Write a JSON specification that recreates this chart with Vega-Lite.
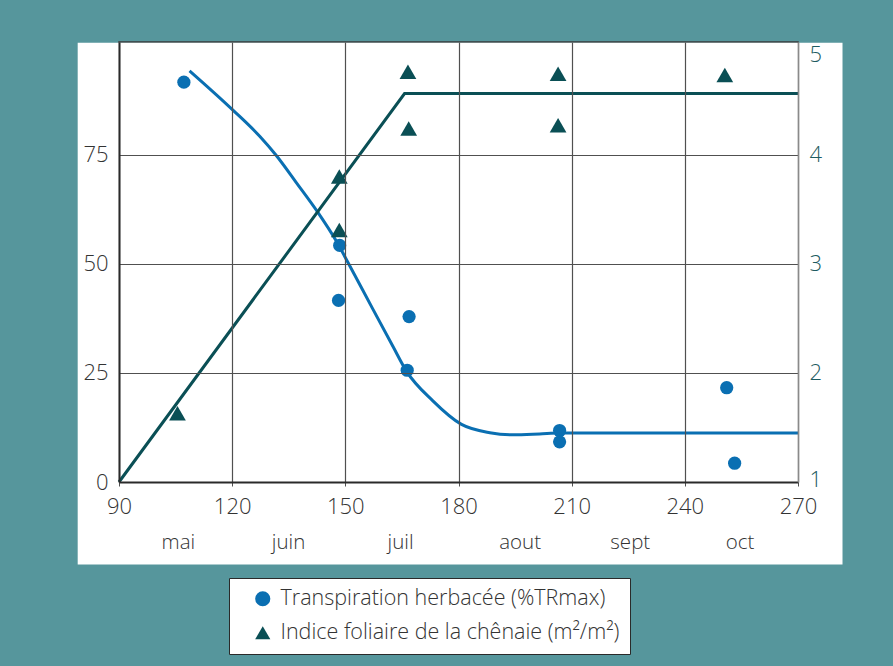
{
  "$schema": "https://vega.github.io/schema/vega-lite/v6.json",
  "width": 679,
  "height": 440,
  "autosize": {"type": "none"},
  "padding": {"left": 119, "top": 42, "right": 95, "bottom": 184},
  "background": "#56969c",
  "config": {
    "font": "Open Sans",
    "view": {"stroke": "#3a3a3a", "strokeWidth": 1.5},
    "axis": {"labelFont": "Open Sans", "labelFontWeight": 300},
    "legend": {
      "labelFont": "Open Sans", "labelFontWeight": 300, "orient": "none", "legendX": 110, "legendY": 536,
      "fillColor": "white", "strokeColor": "#2a2a2a", "padding": 10,
      "symbolOffset": 13, "symbolSize": 230, "labelFontSize": 21.5,
      "labelColor": "#333333", "labelOffset": 7, "rowPadding": 11, "labelLimit": 500
    }
  },
  "datasets": {
    "herb": [
      {"day": 107.2, "value": 91.6, "series": "Transpiration herbacée (%TRmax)"},
      {"day": 148.5, "value": 54.2, "series": "Transpiration herbacée (%TRmax)"},
      {"day": 148.2, "value": 41.6, "series": "Transpiration herbacée (%TRmax)"},
      {"day": 166.9, "value": 37.9, "series": "Transpiration herbacée (%TRmax)"},
      {"day": 166.4, "value": 25.6, "series": "Transpiration herbacée (%TRmax)"},
      {"day": 206.8, "value": 11.8, "series": "Transpiration herbacée (%TRmax)"},
      {"day": 206.8, "value": 9.2, "series": "Transpiration herbacée (%TRmax)"},
      {"day": 251.1, "value": 21.6, "series": "Transpiration herbacée (%TRmax)"},
      {"day": 253.2, "value": 4.3, "series": "Transpiration herbacée (%TRmax)"}
    ],
    "herbCurve": [
      {"day": 108.7, "value": 94.2},
      {"day": 120.2, "value": 85.2},
      {"day": 127.3, "value": 79.2},
      {"day": 131.7, "value": 74.8},
      {"day": 137.0, "value": 68.6},
      {"day": 142.7, "value": 61.8},
      {"day": 147.6, "value": 55.2},
      {"day": 150.7, "value": 50.3},
      {"day": 157.3, "value": 39.6},
      {"day": 162.6, "value": 31.1},
      {"day": 166.2, "value": 25.4},
      {"day": 173.2, "value": 18.6},
      {"day": 180.8, "value": 13.2},
      {"day": 188.3, "value": 11.3},
      {"day": 194.4, "value": 10.8},
      {"day": 201.5, "value": 11.0},
      {"day": 206.8, "value": 11.2},
      {"day": 270.0, "value": 11.2}
    ],
    "lai": [
      {"day": 105.5, "lai": 1.63, "series": "Indice foliaire de la chênaie (m²/m²)"},
      {"day": 148.4, "lai": 3.80, "series": "Indice foliaire de la chênaie (m²/m²)"},
      {"day": 148.4, "lai": 3.31, "series": "Indice foliaire de la chênaie (m²/m²)"},
      {"day": 166.6, "lai": 4.76, "series": "Indice foliaire de la chênaie (m²/m²)"},
      {"day": 166.8, "lai": 4.24, "series": "Indice foliaire de la chênaie (m²/m²)"},
      {"day": 206.4, "lai": 4.74, "series": "Indice foliaire de la chênaie (m²/m²)"},
      {"day": 206.4, "lai": 4.27, "series": "Indice foliaire de la chênaie (m²/m²)"},
      {"day": 250.6, "lai": 4.73, "series": "Indice foliaire de la chênaie (m²/m²)"}
    ],
    "laiLine": [
      {"day": 90, "lai": 1.0},
      {"day": 165.7, "lai": 4.56},
      {"day": 270, "lai": 4.56}
    ]
  },
  "layer": [
    {
      "layer": [
        {
          "data": {"values": [{}]},
          "mark": {"type": "rect", "fill": "white", "stroke": null},
          "encoding": {
            "x": {"datum": 79.05, "type": "quantitative", "scale": {"domain": [90, 270], "nice": false, "zero": false}},
            "x2": {"datum": 281.8},
            "y": {"datum": -18.9, "type": "quantitative", "scale": {"domain": [0, 100.8], "nice": false}},
            "y2": {"datum": 100.6}
          }
        },
        {
          "data": {"name": "herbCurve"},
          "mark": {"type": "line", "color": "#0a6fb2", "strokeWidth": 3, "interpolate": "monotone"},
          "encoding": {
            "x": {"field": "day", "type": "quantitative"},
            "y": {"field": "value", "type": "quantitative"}
          }
        },
        {
          "data": {"name": "herb"},
          "mark": {"type": "point", "filled": true, "opacity": 1, "size": 175},
          "encoding": {
            "x": {
              "field": "day", "type": "quantitative",
              "scale": {"domain": [90, 270], "nice": false, "zero": false},
              "axis": {
                "title": null, "values": [90, 120, 150, 180, 210, 240, 270], "zindex": 1,
                "grid": true, "gridColor": "#505050", "gridWidth": 1.2, "gridOpacity": 1,
                "domainColor": "#2a2a2a", "domainWidth": 2,
                "ticks": true, "tickSize": 4, "tickColor": "#505050",
                "labelFontSize": 22, "labelColor": "#333333", "labelPadding": 10,
                "labelFlush": false, "labelOverlap": false
              }
            },
            "y": {
              "field": "value", "type": "quantitative",
              "scale": {"domain": [0, 100.8], "nice": false},
              "axis": {
                "title": null, "values": [0, 25, 50, 75], "zindex": 1,
                "grid": true, "gridColor": "#505050", "gridWidth": 1.2, "gridOpacity": 1,
                "domainColor": "#2a2a2a", "domainWidth": 2,
                "ticks": false, "tickSize": 0,
                "labelFontSize": 22, "labelColor": "#333333", "labelPadding": 11,
                "labelFlush": false
              }
            },
            "color": {
              "field": "series", "type": "nominal",
              "scale": {"domain": ["Transpiration herbacée (%TRmax)", "Indice foliaire de la chênaie (m²/m²)"], "range": ["#0a6fb2", "#0a4f55"]},
              "legend": {"title": null}
            },
            "shape": {
              "field": "series", "type": "nominal",
              "scale": {"domain": ["Transpiration herbacée (%TRmax)", "Indice foliaire de la chênaie (m²/m²)"], "range": ["circle", "triangle-up"]},
              "legend": {"title": null}
            }
          }
        }
      ]
    },
    {
      "layer": [
        {
          "data": {"name": "laiLine"},
          "mark": {"type": "line", "color": "#0a4f55", "strokeWidth": 3},
          "encoding": {
            "x": {
              "field": "day", "type": "quantitative",
              "scale": {"domain": [90, 270], "nice": false, "zero": false},
              "axis": {
                "title": null, "orient": "bottom", "offset": 42, "zindex": 1,
                "values": [105.6, 134.8, 164.5, 196.2, 225.4, 254.5],
                "labelExpr": "datum.value < 120 ? 'mai' : datum.value < 150 ? 'juin' : datum.value < 180 ? 'juil' : datum.value < 210 ? 'aout' : datum.value < 240 ? 'sept' : 'oct'",
                "grid": false, "domain": false, "ticks": false, "tickSize": 0,
                "labelFontSize": 20.5, "labelColor": "#333333", "labelPadding": 8,
                "labelFlush": false, "labelOverlap": false
              }
            },
            "y": {
              "field": "lai", "type": "quantitative",
              "scale": {"domain": [1, 5.032], "nice": false, "zero": false},
              "axis": {
                "title": null, "orient": "right", "values": [1, 2, 3, 4, 5], "format": "d", "zindex": 1,
                "grid": false, "domainColor": "#8a8a8a", "domainWidth": 1.5,
                "ticks": false, "tickSize": 0,
                "labelFontSize": 22, "labelColor": "#1d5b61", "labelPadding": 11,
                "labelFlush": false,
                "labelOffset": {"condition": [{"test": "datum.value === 5", "value": 9}, {"test": "datum.value === 1", "value": -3}], "value": 0}
              }
            }
          }
        },
        {
          "data": {"name": "lai"},
          "mark": {"type": "point", "filled": true, "opacity": 1, "size": 280},
          "encoding": {
            "x": {"field": "day", "type": "quantitative"},
            "y": {"field": "lai", "type": "quantitative"},
            "color": {
              "field": "series", "type": "nominal",
              "scale": {"domain": ["Transpiration herbacée (%TRmax)", "Indice foliaire de la chênaie (m²/m²)"], "range": ["#0a6fb2", "#0a4f55"]},
              "legend": {"title": null}
            },
            "shape": {
              "field": "series", "type": "nominal",
              "scale": {"domain": ["Transpiration herbacée (%TRmax)", "Indice foliaire de la chênaie (m²/m²)"], "range": ["circle", "triangle-up"]},
              "legend": {"title": null}
            }
          }
        }
      ]
    }
  ],
  "resolve": {"scale": {"y": "independent"}, "axis": {"x": "independent"}}
}
